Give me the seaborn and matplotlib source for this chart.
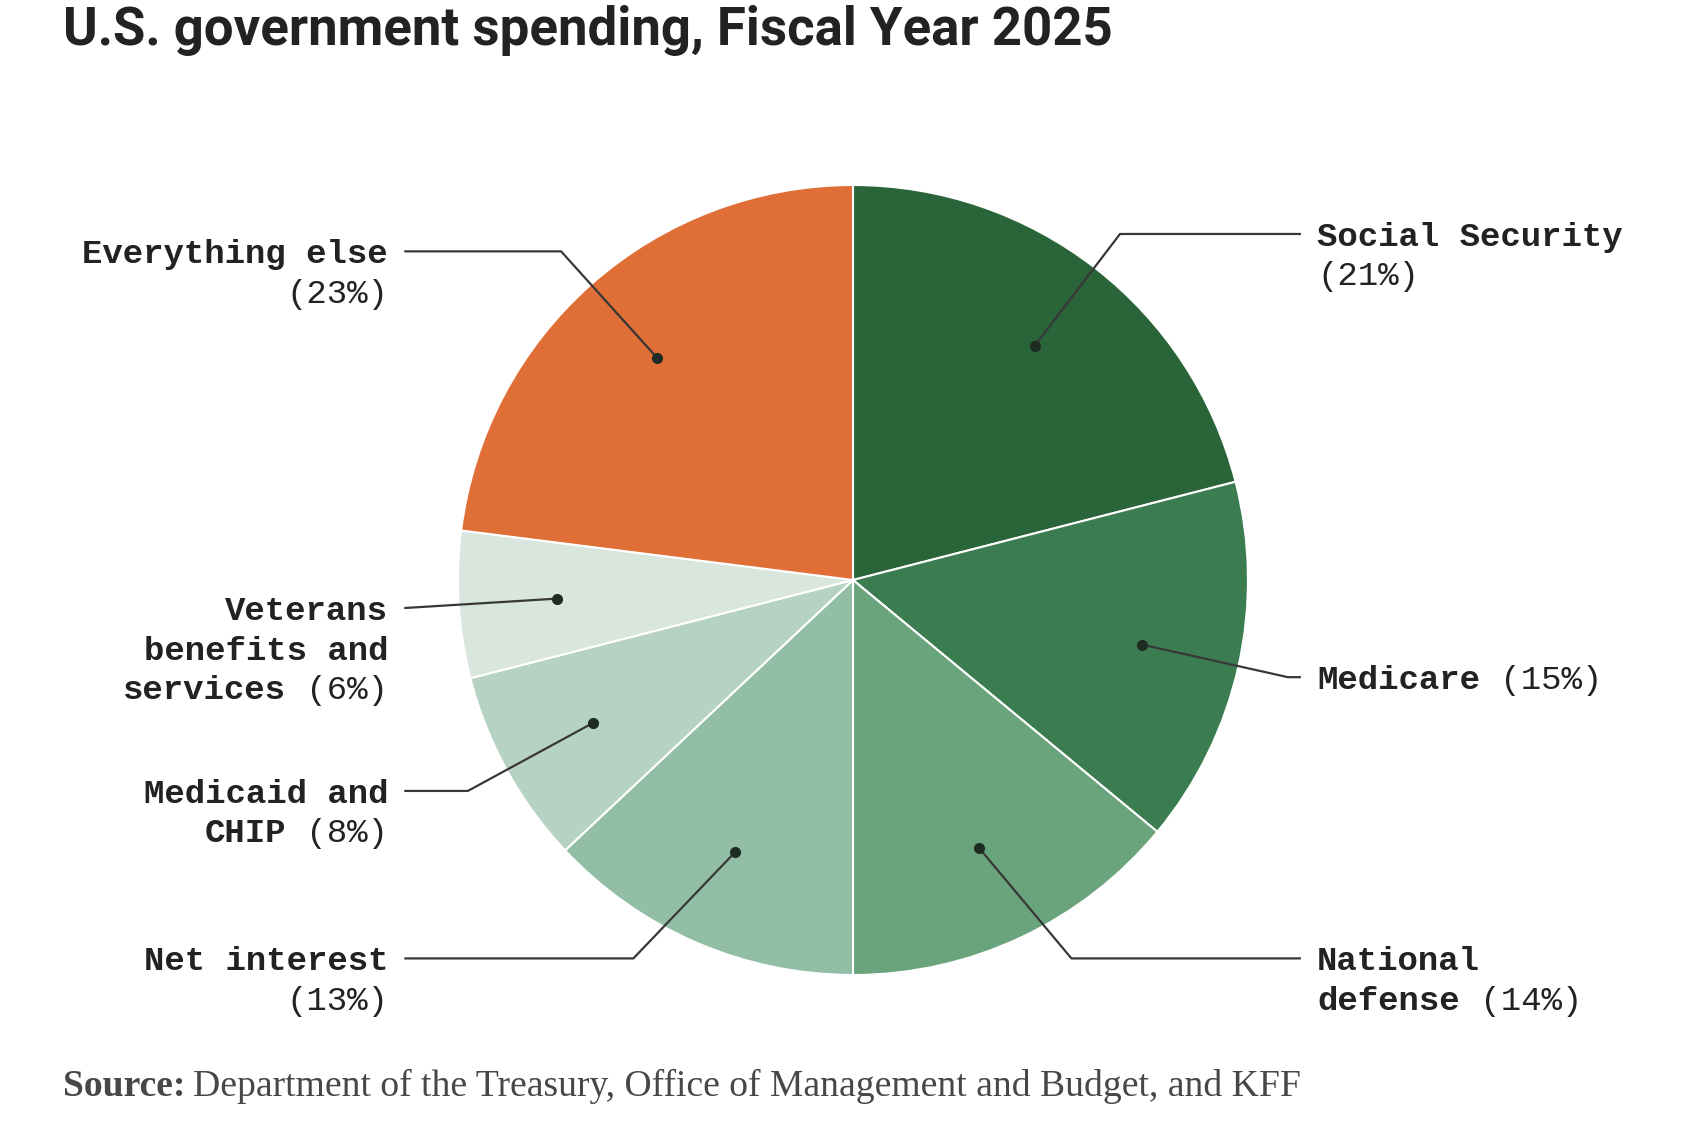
import numpy as np
import matplotlib.pyplot as plt
import seaborn as sns
from matplotlib import font_manager

sns.set_style("white")

# Data: share of FY2025 federal spending, clockwise from 12 o'clock
categories = ["Social Security", "Medicare", "National defense", "Net interest",
              "Medicaid and CHIP", "Veterans benefits and services", "Everything else"]
shares = [21, 15, 14, 13, 8, 6, 23]
colors = ["#2a6439", "#3b7d51", "#6aa47c", "#92bea6", "#b5d2c2", "#d8e6de", "#e06e37"]

# how each label is broken into lines (percent is appended to the last line or on its own)
label_lines = [["Social Security"], ["Medicare"], ["National", "defense"], ["Net interest"],
               ["Medicaid and", "CHIP"], ["Veterans", "benefits and", "services"],
               ["Everything else"]]
pct_own_line = [True, False, False, True, False, False, True]

# layout of labels (pie radius = 1): side, first-line y, elbow of the leader line
side = ["right", "right", "right", "left", "left", "left", "left"]
label_y = [0.876, -0.246, -0.958, -0.958, -0.534, -0.071, 0.832]
elbow_x = [0.676, 1.101, 0.553, -0.556, -0.975, -1.136, -0.739]

W, H, DPI = 1696, 1134, 100
R_PX = 395
CX, CY = 853, 1134 - 580

fig = plt.figure(figsize=(W / DPI, H / DPI), dpi=DPI)
ax = fig.add_axes([0, 0, 1, 1])
ax.pie(shares, colors=colors, startangle=90, counterclock=False, radius=1,
       wedgeprops=dict(edgecolor="white", linewidth=1.5))
ax.set_xlim(-CX / R_PX, (W - CX) / R_PX)
ax.set_ylim(-CY / R_PX, (H - CY) / R_PX)
ax.set_aspect("auto")
ax.axis("off")

mono = "Liberation Mono"
fs = 24.5
char_w = fs * 0.6 * DPI / 72 / R_PX
line_h = 39.5 / R_PX
ink = "#222222"
line_c = "#383838"

text_x = {"right": 1.175, "left": -1.177}
line_end = {"right": 1.134, "left": -1.136}

cum = np.cumsum([0] + shares[:-1])
for i, cat in enumerate(categories):
    mid = np.deg2rad(90 - 3.6 * (cum[i] + shares[i] / 2))
    dx, dy = 0.75 * np.cos(mid), 0.75 * np.sin(mid)
    y0 = label_y[i]
    ax.plot([dx, elbow_x[i], line_end[side[i]]], [dy, y0, y0], color=line_c, lw=1.6,
            solid_capstyle="butt", zorder=3)
    ax.plot(dx, dy, "o", color="#1e2b22", ms=7, zorder=4)

    pct = f"({shares[i]}%)"
    rows = [[ln, ""] for ln in label_lines[i]]
    if pct_own_line[i]:
        rows.append(["", pct])
    else:
        rows[-1][1] = " " + pct
    for k, (bold, reg) in enumerate(rows):
        yy = y0 - k * line_h
        x = text_x[side[i]]
        if side[i] == "right":
            if bold:
                ax.text(x, yy, bold, family=mono, weight="bold", fontsize=fs, color=ink,
                        ha="left", va="center_baseline")
            if reg:
                ax.text(x + len(bold) * char_w, yy, reg, family=mono, fontsize=fs,
                        color=ink, ha="left", va="center_baseline")
        else:
            if reg:
                ax.text(x, yy, reg, family=mono, fontsize=fs, color=ink,
                        ha="right", va="center_baseline")
            if bold:
                ax.text(x - len(reg) * char_w, yy, bold, family=mono, weight="bold",
                        fontsize=fs, color=ink, ha="right", va="center_baseline")

# title and source
names = {f.name for f in font_manager.fontManager.ttflist}
title_font = "Liberation Sans Narrow" if "Liberation Sans Narrow" in names else "Roboto"
title = fig.text(63 / W, 1 - 45 / H, "U.S. government spending, Fiscal Year 2025",
                 family=title_font, weight="bold", fontsize=42, color="#222222",
                 ha="left", va="baseline")
renderer = fig.canvas.get_renderer()
tw = title.get_window_extent(renderer).width
title.set_fontsize(42 * 1051 / tw)

src_size = 26
src_y = 1 - 1096 / H
src_b = fig.text(63 / W, src_y, "Source:", family="Liberation Serif", weight="bold",
                 fontsize=src_size, color="#474747", ha="left", va="baseline")
src_r = fig.text(0, src_y,
                 "Department of the Treasury, Office of Management and Budget, and KFF",
                 family="Liberation Serif", fontsize=src_size, color="#474747",
                 ha="left", va="baseline")
bw = src_b.get_window_extent(renderer).width
rw = src_r.get_window_extent(renderer).width
scale = 1237 / (bw + 7 + rw)
src_size *= scale
src_b.set_fontsize(src_size)
src_r.set_fontsize(src_size)
bw = src_b.get_window_extent(renderer).width
src_r.set_x((63 + bw + 7 * scale) / W)

fig.savefig("out.png", dpi=DPI, facecolor="white")
